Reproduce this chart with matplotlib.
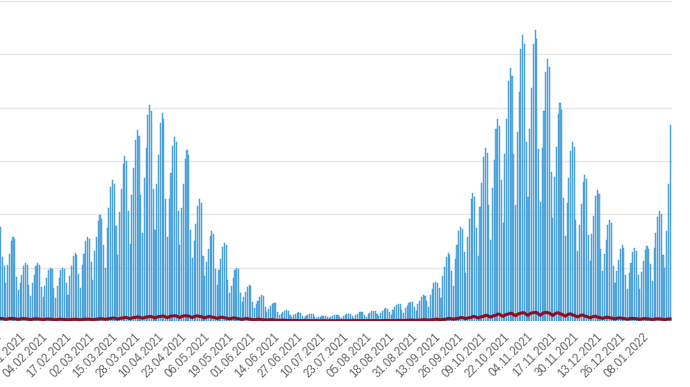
import matplotlib
matplotlib.use("Agg")
import matplotlib.pyplot as plt
import pandas as pd

# daily new cases (starts 09.01.2021)
cases = [
    8800, 6000, 5180, 3590, 5210, 6320, 7510,
    7900, 7660, 4120, 2860, 3560, 4320, 5130,
    5400, 5240, 3350, 2320, 3560, 4320, 5130,
    5400, 5240, 3220, 2240, 3300, 4000, 4750,
    5000, 4850, 3100, 2150, 3300, 4000, 4750,
    5000, 4850, 3530, 2450, 4220, 5120, 6080,
    6400, 6210, 4430, 3070, 5210, 6320, 7510,
    7900, 7660, 5520, 3830, 6530, 7920, 9410,
    9900, 9600, 7160, 4970, 8710, 10560, 12540,
    13200, 12800, 8900, 6170, 10230, 12400, 14730,
    15500, 15040, 10350, 7180, 11810, 14320, 17010,
    17900, 17360, 11840, 8210, 13400, 16240, 19290,
    20300, 19690, 12340, 8560, 12870, 15600, 18530,
    19500, 18920, 11410, 7910, 11420, 13840, 16440,
    17300, 16780, 10320, 7160, 10560, 12800, 15200,
    16000, 15520, 8490, 5890, 7520, 9120, 10830,
    11400, 11060, 6140, 4260, 5540, 6720, 7980,
    8400, 8150, 4870, 3380, 4820, 5840, 6940,
    7300, 7080, 3810, 2640, 3300, 4000, 4750,
    5000, 4850, 2600, 1810, 2240, 2720, 3230,
    3400, 3300, 1800, 1250, 1580, 1920, 2280,
    2400, 2330, 1270, 880, 1120, 1360, 1620,
    1700, 1650, 840, 580, 660, 800, 950,
    1000, 970, 560, 390, 530, 640, 760,
    800, 780, 450, 310, 430, 520, 620,
    650, 630, 360, 250, 330, 400, 480,
    500, 490, 340, 240, 400, 480, 570,
    600, 580, 390, 270, 440, 530, 630,
    660, 640, 470, 320, 560, 680, 810,
    850, 820, 560, 390, 630, 760, 900,
    950, 920, 670, 460, 790, 960, 1140,
    1200, 1160, 870, 600, 1060, 1280, 1520,
    1600, 1550, 1050, 730, 1190, 1440, 1710,
    1800, 1750, 1300, 900, 1580, 1920, 2280,
    2400, 2330, 1890, 1310, 2440, 2960, 3520,
    3700, 3590, 3120, 2160, 4190, 5080, 6030,
    6350, 6160, 4710, 3270, 5840, 7080, 8410,
    8850, 8580, 6460, 4480, 7920, 9600, 11400,
    12000, 11640, 8740, 6060, 10690, 12960, 15390,
    16200, 15710, 10880, 7550, 12470, 15120, 17960,
    18900, 18330, 13210, 9160, 15640, 18960, 22520,
    23700, 22990, 15660, 10860, 17690, 21440, 25460,
    26800, 26000, 16770, 11630, 18020, 21840, 25940,
    27300, 26480, 16090, 11160, 16240, 19680, 23370,
    24600, 23860, 13950, 9680, 13460, 16320, 19380,
    20400, 19790, 11530, 8000, 11090, 13440, 15960,
    16800, 16300, 9460, 6560, 9040, 10960, 13020,
    13700, 13290, 8060, 5590, 8120, 9840, 11690,
    12300, 11930, 6760, 4690, 6270, 7600, 9030,
    9500, 9220, 5150, 3570, 4690, 5680, 6750,
    7100, 6890, 4310, 2990, 4490, 5440, 6460,
    6800, 6600, 4280, 2970, 4620, 5600, 6650,
    7000, 6790, 5360, 3720, 6800, 8240, 9790,
    10300, 10000, 6200, 5000, 8400, 12800, 18400,
]

# daily deaths (red line)
deaths = [
    235, 227, 189, 158, 200, 227, 235,
    224, 216, 180, 150, 190, 216, 224,
    202, 194, 162, 135, 171, 194, 202,
    190, 184, 153, 128, 162, 184, 190,
    168, 162, 135, 113, 143, 162, 168,
    157, 151, 126, 105, 133, 151, 157,
    168, 162, 135, 113, 143, 162, 168,
    179, 173, 144, 120, 152, 173, 179,
    224, 216, 180, 150, 190, 216, 224,
    280, 270, 225, 188, 238, 270, 280,
    336, 324, 270, 225, 285, 324, 336,
    381, 367, 306, 255, 323, 367, 381,
    426, 410, 342, 285, 361, 410, 426,
    470, 454, 378, 315, 399, 454, 470,
    493, 475, 396, 330, 418, 475, 493,
    482, 464, 387, 323, 409, 464, 482,
    426, 410, 342, 285, 361, 410, 426,
    358, 346, 288, 240, 304, 346, 358,
    291, 281, 234, 195, 247, 281, 291,
    224, 216, 180, 150, 190, 216, 224,
    168, 162, 135, 113, 143, 162, 168,
    123, 119, 99, 83, 105, 119, 123,
    78, 76, 63, 53, 67, 76, 78,
    50, 49, 41, 34, 43, 49, 50,
    34, 32, 27, 23, 29, 32, 34,
    28, 27, 23, 19, 24, 27, 28,
    25, 24, 20, 17, 21, 24, 25,
    25, 24, 20, 17, 21, 24, 25,
    28, 27, 23, 19, 24, 27, 28,
    34, 32, 27, 23, 29, 32, 34,
    39, 38, 32, 26, 33, 38, 39,
    50, 49, 41, 34, 43, 49, 50,
    67, 65, 54, 45, 57, 65, 67,
    90, 86, 72, 60, 76, 86, 90,
    123, 119, 99, 83, 105, 119, 123,
    168, 162, 135, 113, 143, 162, 168,
    246, 238, 198, 165, 209, 238, 246,
    325, 313, 261, 218, 276, 313, 325,
    426, 410, 342, 285, 361, 410, 426,
    538, 518, 432, 360, 456, 518, 538,
    650, 626, 522, 435, 551, 626, 650,
    728, 702, 585, 488, 618, 702, 728,
    784, 756, 630, 525, 665, 756, 784,
    806, 778, 648, 540, 684, 778, 806,
    773, 745, 621, 518, 656, 745, 773,
    672, 648, 540, 450, 570, 648, 672,
    560, 540, 450, 375, 475, 540, 560,
    448, 432, 360, 300, 380, 432, 448,
    358, 346, 288, 240, 304, 346, 358,
    291, 281, 234, 195, 247, 281, 291,
    246, 238, 198, 165, 209, 238, 246,
    224, 216, 180, 150, 190, 216, 224,
    202, 194, 162, 135, 171, 194, 202,
    190, 184, 153, 128, 162, 184, 190,
]

tick_labels = [
    "09.01.2021", "22.01.2021", "04.02.2021", "17.02.2021", "02.03.2021",
    "15.03.2021", "28.03.2021", "10.04.2021", "23.04.2021", "06.05.2021",
    "19.05.2021", "01.06.2021", "14.06.2021", "27.06.2021", "10.07.2021",
    "23.07.2021", "05.08.2021", "18.08.2021", "31.08.2021", "13.09.2021",
    "26.09.2021", "09.10.2021", "22.10.2021", "04.11.2021", "17.11.2021",
    "30.11.2021", "13.12.2021", "26.12.2021", "08.01.2022",
]

grid_values = [5000, 10000, 15000, 20000, 25000, 30000]

plt.rcParams["font.family"] = ["Liberation Sans", "DejaVu Sans"]

days = pd.date_range("2021-01-09", periods=len(cases), freq="D")
tick_dates = pd.to_datetime(tick_labels, format="%d.%m.%Y")

fig = plt.figure(figsize=(6.9, 3.87), dpi=100)
ax = fig.add_axes([0, 66 / 387, 672 / 690, 321 / 387])

ax.bar(days, cases, width=0.62, color="#66b4e6", edgecolor="#2f8ccc",
       linewidth=0.3, zorder=2)
ax.plot(days, deaths, color="#8e1020", linewidth=2.2, zorder=3)

ax.set_ylim(0, 30100)
ax.set_yticks(grid_values)
ax.yaxis.grid(True, color="#e6e6e6", linewidth=1)
ax.set_axisbelow(True)
ax.tick_params(axis="y", left=False, labelleft=False)

ax.set_xlim(days[0] - pd.Timedelta(hours=7), days[-1] + pd.Timedelta(hours=26))
ax.set_xticks(tick_dates)
ax.set_xticklabels(tick_labels, rotation=45, ha="right", va="center",
                   rotation_mode="anchor", fontsize=8.3, color="#666666")
ax.tick_params(axis="x", length=0, pad=10)

for s in ax.spines.values():
    s.set_visible(False)

fig.savefig("out.png", dpi=100)
